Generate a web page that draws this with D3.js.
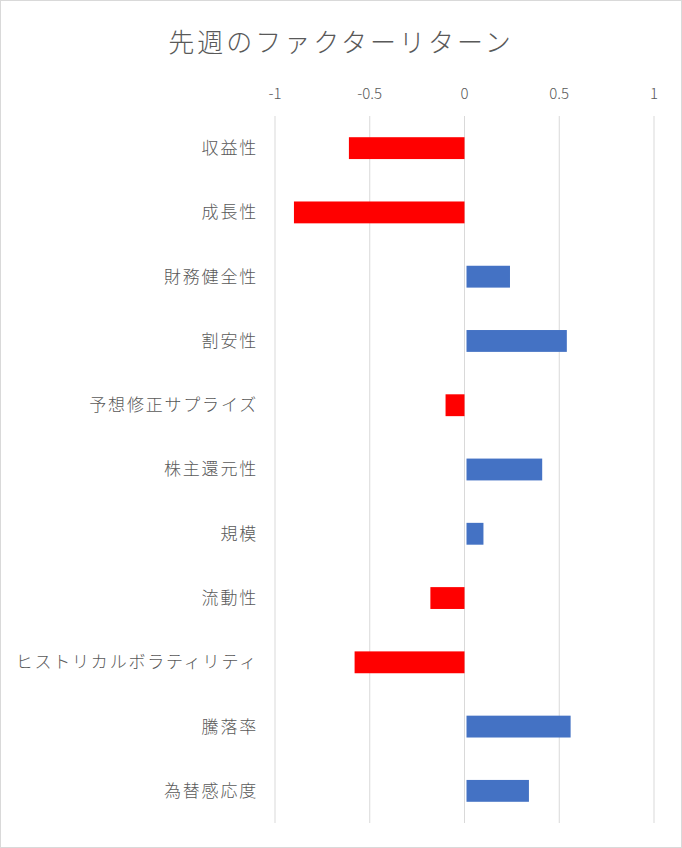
<!DOCTYPE html>
<html>
<head>
<meta charset="utf-8">
<script src="https://d3js.org/d3.v7.min.js"></script>
<style>
    body { margin: 0; background: #fff; }
    text { font-family: "Noto Sans CJK JP", "Noto Sans", sans-serif; fill: #595959; font-weight: 300; }
</style>
</head>
<body>
<script>
    // factor names, top to bottom
    var factors = ['収益性', '成長性', '財務健全性', '割安性', '予想修正サプライズ', '株主還元性',
        '規模', '流動性', 'ヒストリカルボラティリティ', '騰落率', '為替感応度'];
    // last week's return per factor
    var returns = [-0.61, -0.90, 0.24, 0.54, -0.10, 0.41, 0.10, -0.18, -0.58, 0.56, 0.34];
    var tickValues = [-1, -0.5, 0, 0.5, 1];

    var W = 682, H = 848;
    var svg = d3.select('body').append('svg').attr('width', W).attr('height', H);

    // chart border
    svg.append('rect').attr('x', 0.5).attr('y', 0.5).attr('width', W - 1).attr('height', H - 1)
        .attr('fill', '#fff').attr('stroke', '#d9d9d9');

    var x = d3.scaleLinear().domain([-1, 1]).range([275, 654]);
    var y = d3.scaleBand().domain(factors).range([116, 823]).paddingInner(0.66).paddingOuter(0.33);

    // gridlines
    svg.selectAll('.grid').data(tickValues).enter().append('line')
        .attr('x1', d => x(d)).attr('x2', d => x(d))
        .attr('y1', 116).attr('y2', 823)
        .attr('stroke', '#d9d9d9').attr('stroke-width', 1);

    // top tick labels
    svg.selectAll('.tick').data(tickValues).enter().append('text')
        .attr('x', d => x(d)).attr('y', 99)
        .attr('text-anchor', 'middle').attr('font-size', 15)
        .text(d => d);

    // bars
    svg.selectAll('.bar').data(returns).enter().append('rect')
        .attr('x', d => d < 0 ? x(d) : x(0) + 2)
        .attr('width', d => Math.abs(x(d) - x(0)) - (d < 0 ? 0 : 2))
        .attr('y', (d, i) => y(factors[i]))
        .attr('height', y.bandwidth())
        .attr('fill', d => d < 0 ? '#ff0000' : '#4472c4');

    // category labels
    svg.selectAll('.cat').data(factors).enter().append('text')
        .attr('x', 258).attr('y', d => y(d) + y.bandwidth() / 2)
        .attr('dy', '0.35em').attr('text-anchor', 'end').attr('font-size', 17)
        .attr('letter-spacing', '1.8px')
        .text(d => d);

    // title
    svg.append('text').attr('x', W / 2).attr('y', 52)
        .attr('text-anchor', 'middle').attr('font-size', 26)
        .attr('letter-spacing', '3px')
        .text('先週のファクターリターン');
</script>
</body>
</html>
